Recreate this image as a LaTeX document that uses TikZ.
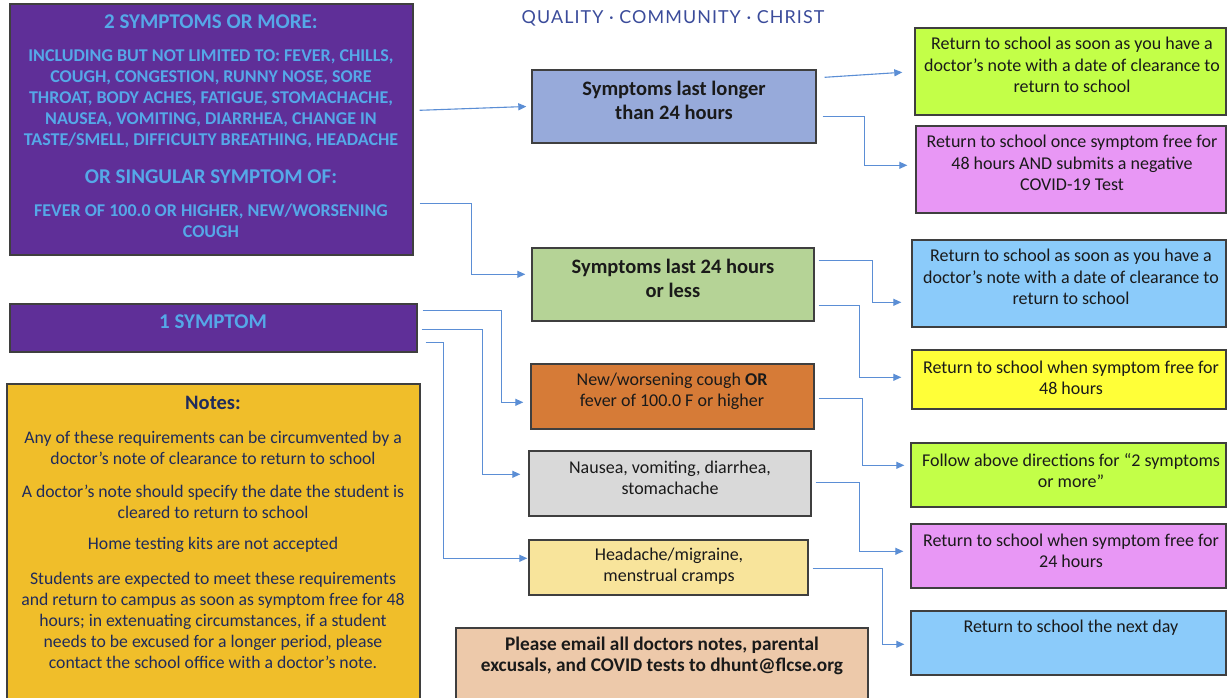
\documentclass[tikz,border=0pt]{standalone}
\usepackage{fontspec}
\setmainfont{Carlito}
\newfontfamily\hdrfont[LetterSpace=6]{Lato}
\usetikzlibrary{arrows.meta,calc,fit}
\definecolor{purp}{HTML}{5F2F98}
\definecolor{ltblue}{HTML}{55A8E8}
\definecolor{notesY}{HTML}{F0BE2A}
\definecolor{navy}{HTML}{1F2B5C}
\definecolor{hdr}{HTML}{3B4C9B}
\definecolor{cLong}{HTML}{97AADA}
\definecolor{cGreen}{HTML}{C3FF48}
\definecolor{cPink}{HTML}{E897F5}
\definecolor{cShort}{HTML}{B5D396}
\definecolor{cBlue}{HTML}{8BCBFA}
\definecolor{cYellow}{HTML}{FFFF38}
\definecolor{cOrange}{HTML}{D67B37}
\definecolor{cGrey}{HTML}{D9D9D9}
\definecolor{cLtY}{HTML}{F8E49B}
\definecolor{cEmail}{HTML}{EDC9AA}
\definecolor{ink}{HTML}{1A1A1A}
\definecolor{conn}{HTML}{5B8ED5}
\definecolor{border}{HTML}{3F3F3F}
\begin{document}
\begin{tikzpicture}[x=1pt,y=-1pt,
  boxst/.style={draw=border,line width=1.4pt,inner sep=0pt},
  txt/.style={align=center,inner sep=0pt,text=ink,font=\fontsize{18}{21.2}\selectfont},
  btxt/.style={align=center,inner sep=0pt,text=ink,font=\fontsize{20.5}{24}\selectfont\bfseries},
  ptitle/.style={align=center,inner sep=0pt,text=ltblue,font=\fontsize{21}{23}\selectfont\bfseries},
  pbody/.style={align=center,inner sep=0pt,text=ltblue,font=\fontsize{18}{21}\selectfont\bfseries},
  ntxt/.style={align=center,inner sep=0pt,text=navy,font=\fontsize{17.7}{21}\selectfont},
  connst/.style={draw=conn,line width=1.1pt,-{Triangle[length=8pt,width=7pt]}}
]
\useasboundingbox (0,0) rectangle (1227,698);
\clip (0,0) rectangle (1227,698);
\fill[white] (0,0) rectangle (1227,698);

% left boxes
\node[boxst,fill=purp,fit={(10,4) (413,255)}] (big) {};
\node[boxst,fill=purp,fit={(10,304) (417,352)}] (sym1) {};
\node[boxst,fill=notesY,fit={(7,384) (420,720)}] (notes) {};

\node[ptitle] (bigt1) at (211,22) {2 SYMPTOMS OR MORE:};
\node[pbody] (bigb1) at (211,99) {INCLUDING BUT NOT LIMITED TO: FEVER, CHILLS,\\COUGH, CONGESTION, RUNNY NOSE, SORE\\THROAT, BODY ACHES, FATIGUE, STOMACHACHE,\\NAUSEA, VOMITING, DIARRHEA, CHANGE IN\\TASTE/SMELL, DIFFICULTY BREATHING, HEADACHE};
\node[ptitle] (bigt2) at (211,177) {OR SINGULAR SYMPTOM OF:};
\node[pbody] (bigb2) at (211,221) {FEVER OF 100.0 OR HIGHER, NEW/WORSENING\\COUGH};
\node[ptitle] (sym1t) at (213,322) {1 SYMPTOM};

\node[ntxt,font=\fontsize{20.5}{22}\selectfont\bfseries] (notest) at (213,403) {Notes:};
\node[ntxt] (n1) at (213,447.5) {Any of these requirements can be circumvented by a\\doctor’s note of clearance to return to school};
\node[ntxt] (n2) at (213,501.5) {A doctor’s note should specify the date the student is\\cleared to return to school};
\node[ntxt] (n3) at (213,545) {Home testing kits are not accepted};
\node[ntxt] (n4) at (213,620) {Students are expected to meet these requirements\\and return to campus as soon as symptom free for 48\\hours; in extenuating circumstances, if a student\\needs to be excused for a longer period, please\\contact the school office with a doctor’s note.};

% header
\node[inner sep=0pt,text=hdr,font=\hdrfont\fontsize{17.9}{20}\selectfont] (hdr) at (673,18) {QUALITY · COMMUNITY · CHRIST};

% middle boxes
\node[boxst,fill=cLong,fit={(532,70) (816,143)}] (symL) {};
\node[btxt] (symLt) at (674,100) {Symptoms last longer\\than 24 hours};
\node[boxst,fill=cShort,fit={(532,248) (814,321)}] (sym24) {};
\node[btxt] (sym24t) at (673,278) {Symptoms last 24 hours\\or less};
\node[boxst,fill=cOrange,fit={(531,364) (814,429)}] (orange) {};
\node[txt] (oranget) at (672,391) {New/worsening cough \textbf{OR}\\fever of 100.0 F or higher};
\node[boxst,fill=cGrey,fit={(529,451) (811,516)}] (grey) {};
\node[txt] (greyt) at (670,477.5) {Nausea, vomiting, diarrhea,\\stomachache};
\node[boxst,fill=cLtY,fit={(529,540) (808,595)}] (lyel) {};
\node[txt] (lyelt) at (669,566.5) {Headache/migraine,\\menstrual cramps};
\node[boxst,fill=cEmail,fit={(456,628) (868,720)}] (email) {};
\node[btxt,font=\fontsize{19.3}{21.2}\selectfont\bfseries] (emailt) at (662,655.5) {Please email all doctors notes, parental\\excusals, and COVID tests to dhunt@flcse.org};

% right boxes
\node[boxst,fill=cGreen,fit={(915,28) (1226,115)}] (green1) {};
\node[txt] (green1t) at (1072,65) {Return to school as soon as you have a\\doctor’s note with a date of clearance to\\return to school};
\node[boxst,fill=cPink,fit={(916,126) (1226,213)}] (pink1) {};
\node[txt] (pink1t) at (1072,163) {Return to school once symptom free for\\48 hours AND submits a negative\\COVID-19 Test};
\node[boxst,fill=cBlue,fit={(912,240) (1226,327)}] (blue1) {};
\node[txt] (blue1t) at (1071,277) {Return to school as soon as you have a\\doctor’s note with a date of clearance to\\return to school};
\node[boxst,fill=cYellow,fit={(912,350) (1226,409)}] (yel1) {};
\node[txt] (yel1t) at (1071,377.5) {Return to school when symptom free for\\48 hours};
\node[boxst,fill=cGreen,fit={(911,443) (1226,507)}] (green2) {};
\node[txt] (green2t) at (1071,470.5) {Follow above directions for “2 symptoms\\or more”};
\node[boxst,fill=cPink,fit={(911,524) (1226,588)}] (pink2) {};
\node[txt] (pink2t) at (1071,550.5) {Return to school when symptom free for\\24 hours};
\node[boxst,fill=cBlue,fit={(911,611) (1226,675)}] (blue2) {};
\node[txt] (blue2t) at (1071,628) {Return to school the next day};

% connectors
\draw[connst] ($(big.north east)+(6,107)$) -- ($(symL.west)+(-5,0)$);
\draw[connst] ($(big.north east)+(6,200)$) -| ($(sym24.north west)+(-60,27)$) -- ($(sym24.north west)+(-6,27)$);
\draw[connst] ($(sym1.north east)+(5,7)$) -| ($(orange.north west)+(-29,39)$) -- ($(orange.north west)+(-7,39)$);
\draw[connst] ($(sym1.north east)+(4,26)$) -| ($(grey.north west)+(-46,24)$) -- ($(grey.north west)+(-8,24)$);
\draw[connst] ($(sym1.north east)+(8,39)$) -| ($(lyel.north west)+(-85,19)$) -- ($(lyel.north west)+(-1,19)$);

\draw[connst] ($(symL.north east)+(8,8)$) -- ($(green1.north west)+(-12,45)$);
\draw[connst] ($(symL.north east)+(6,47)$) -| ($(pink1.north west)+(-51,40)$) -- ($(pink1.north west)+(-8,40)$);
\draw[connst] ($(sym24.north east)+(4,13)$) -| ($(blue1.north west)+(-39,63)$) -- ($(blue1.north west)+(-10,63)$);
\draw[connst] ($(sym24.north east)+(4,58)$) -| ($(yel1.north west)+(-52,28)$) -- ($(yel1.north west)+(-10,28)$);
\draw[connst] ($(orange.north east)+(4,35)$) -| ($(green2.north west)+(-48,23)$) -- ($(green2.north west)+(-6,23)$);
\draw[connst] ($(grey.north east)+(4,32)$) -| ($(pink2.north west)+(-51,28)$) -- ($(pink2.north west)+(-7,28)$);
\draw[connst] ($(lyel.north east)+(4,29)$) -| ($(blue2.north west)+(-28,34)$) -- ($(blue2.north west)+(-6,34)$);
\end{tikzpicture}
\end{document}
